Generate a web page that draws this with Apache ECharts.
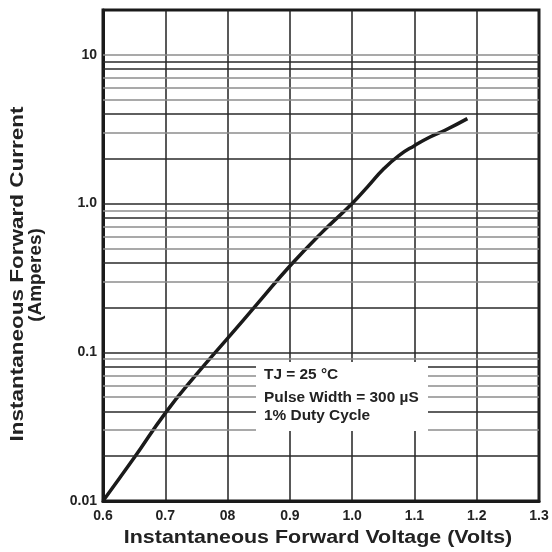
<!DOCTYPE html>
<html>
<head>
<meta charset="utf-8">
<script src="https://cdn.jsdelivr.net/npm/echarts@6/dist/echarts.min.js"></script>
<style>
  html, body { margin: 0; padding: 0; background: #fff; }
  #chart { width: 552px; height: 552px; }
</style>
</head>
<body>
<div id="chart"></div>
<script>
// forward voltage (V) vs forward current (A)
const voltage = [0.6, 0.65, 0.7, 0.75, 0.8, 0.85, 0.9, 0.95, 1.0, 1.025, 1.05, 1.075, 1.1, 1.125, 1.15, 1.185]
const current = [0.01, 0.0195, 0.039, 0.071, 0.124, 0.217, 0.38, 0.63, 1.0, 1.3, 1.7, 2.1, 2.45, 2.8, 3.12, 3.72]

const xTickLabels = ['0.6', '0.7', '08', '0.9', '1.0', '1.1', '1.2', '1.3']
const yTickValues = [0.01, 0.1, 1, 10]
const yTickLabels = ['0.01', '0.1', '1.0', '10']

// horizontal grid, dark and light lines as printed
const yGridDark = [0.02, 0.04, 0.08, 0.1, 0.2, 0.4, 0.8, 1, 2, 4, 8, 9]
const yGridGray = [0.03, 0.05, 0.06, 0.07, 0.09, 0.3, 0.5, 0.6, 0.7, 0.9, 3, 5, 6, 7, 10]

const noteLines = ['TJ = 25 °C', 'Pulse Width = 300 µS', '1% Duty Cycle']

const chart = echarts.init(document.getElementById('chart'))

const gridLines = [
  ...yGridDark.map(v => ({ yAxis: v, lineStyle: { color: '#2a2a2a', width: 1.5, type: 'solid' } })),
  ...yGridGray.map(v => ({ yAxis: v, lineStyle: { color: '#8c8c8c', width: 1.5, type: 'solid' } }))
]

const font = 'Liberation Sans, Arial, sans-serif'

const option = {
  animation: false,
  grid: {
    left: 103, top: 10, right: 13, bottom: 51,
    outerBoundsMode: 'none',
    containLabel: false,
    show: true, borderColor: '#1a1a1a', borderWidth: 3
  },
  xAxis: {
    type: 'value',
    min: 0.6,
    max: 1.3,
    interval: 0.1,
    axisLine: { show: true, lineStyle: { color: '#1a1a1a', width: 3 } },
    axisTick: { show: false },
    splitLine: { show: true, lineStyle: { color: '#222', width: 1.5 } },
    axisLabel: {
      margin: 8,
      color: '#222',
      fontFamily: font,
      fontWeight: 'bold',
      fontSize: 14,
      formatter: (v) => {
        const i = Math.round((v - 0.6) * 10)
        return xTickLabels[i] || ''
      }
    }
  },
  yAxis: {
    type: 'log',
    logBase: 10,
    min: 0.01,
    max: 20,
    axisLine: { show: true, lineStyle: { color: '#1a1a1a', width: 3 } },
    axisTick: { show: false },
    splitLine: { show: false },
    minorSplitLine: { show: false },
    axisLabel: {
      margin: 6,
      color: '#222',
      fontFamily: font,
      fontWeight: 'bold',
      fontSize: 14,
      formatter: (v) => {
        const i = yTickValues.findIndex(t => Math.abs(t - v) / t < 1e-6)
        return i >= 0 ? yTickLabels[i] : ''
      }
    }
  },
  graphic: [
    {
      type: 'rect', z: 10, silent: true,
      shape: { x: 256, y: 362, width: 172, height: 69 },
      style: { fill: '#fff' }
    },
    ...noteLines.map((t, i) => ({
      type: 'text', z: 11, silent: true,
      x: 264, y: [375, 398, 416][i], scaleX: 1.1,
      style: { text: t, fill: '#222', font: 'bold 14px ' + font, textVerticalAlign: 'middle' }
    })),
    {
      type: 'text', z: 11, silent: true,
      x: 318, y: 538, scaleX: 1.19,
      style: { text: 'Instantaneous Forward Voltage (Volts)', fill: '#222', font: 'bold 18px ' + font, textAlign: 'center', textVerticalAlign: 'middle' }
    },
    {
      type: 'text', z: 11, silent: true,
      x: 18, y: 274, rotation: Math.PI / 2, scaleX: 1.25,
      style: { text: 'Instantaneous Forward Current', fill: '#222', font: 'bold 18px ' + font, textAlign: 'center', textVerticalAlign: 'middle' }
    },
    {
      type: 'text', z: 11, silent: true,
      x: 36, y: 275, rotation: Math.PI / 2, scaleX: 1.05,
      style: { text: '(Amperes)', fill: '#222', font: 'bold 18px ' + font, textAlign: 'center', textVerticalAlign: 'middle' }
    }
  ],
  series: [
    {
      type: 'line',
      z: 1,
      data: [],
      silent: true,
      markLine: {
        silent: true,
        symbol: 'none',
        label: { show: false },
        animation: false,
        data: gridLines
      }
    },
    {
      type: 'line',
      z: 3,
      smooth: 0.5,
      symbol: 'none',
      lineStyle: { color: '#1a1a1a', width: 3.5 },
      data: voltage.map((v, i) => [v, current[i]])
    }
  ]
}

chart.setOption(option)
</script>
</body>
</html>
